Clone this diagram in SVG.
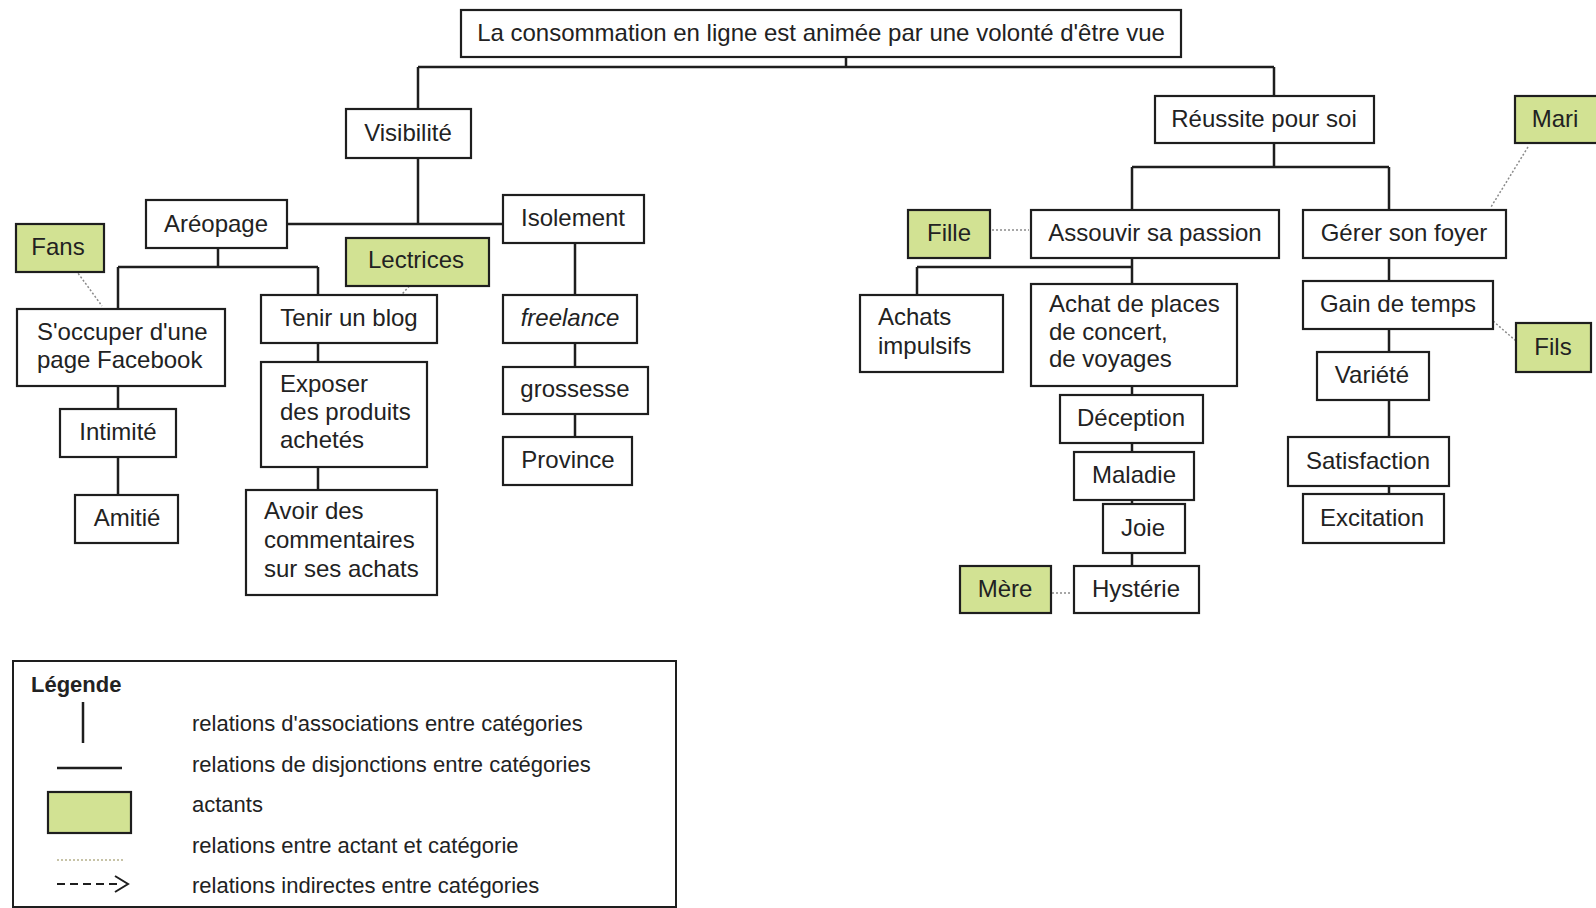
<svg xmlns="http://www.w3.org/2000/svg" width="1596" height="908" viewBox="0 0 1596 908">
<style>
.b{fill:#fff;stroke:#1e1e1e;stroke-width:2.2}
.g{fill:#d2e293;stroke:#1e1e1e;stroke-width:2.2}
.t{font-family:"Liberation Sans",Arial,sans-serif;font-size:24px;fill:#222;text-anchor:middle}
.l{font-family:"Liberation Sans",Arial,sans-serif;font-size:24px;fill:#222}
.lg{font-family:"Liberation Sans",Arial,sans-serif;font-size:22px;fill:#222}
.c{stroke:#1e1e1e;stroke-width:2.5;fill:none}
.d{stroke:#8a8a8a;stroke-width:1.5;stroke-dasharray:2 2;fill:none}
</style>
<rect width="1596" height="908" fill="#fff"/>
<g id="connectors">
<path class="c" d="M846,57V67M418,67H1274M418,67V109M1274,67V96"/>
<path class="c" d="M418,158V224M287,224H503"/>
<path class="c" d="M218,248V267M118,267H318M118,267V309M318,267V295"/>
<path class="c" d="M575,243V295M575,343V367M575,414V437"/>
<path class="c" d="M118,386V409M118,457V495"/>
<path class="c" d="M318,343V362M318,467V490"/>
<path class="c" d="M1274,143V167M1132,167H1389M1132,167V210M1389,167V210"/>
<path class="c" d="M1132,258V267M917,267H1132M917,267V295M1132,267V284"/>
<path class="c" d="M1132,386V395M1132,443V452M1132,500V504M1132,553V566"/>
<path class="c" d="M1389,258V281M1389,329V352M1389,400V437M1389,486V494"/>
<path class="d" d="M64,254L102,306"/>
<path class="d" d="M412,283L386,312"/>
<path class="d" d="M992,230H1029"/>
<path class="d" d="M1528,147L1491,207"/>
<path class="d" d="M1478,308L1523,347"/>
<path class="d" d="M1036,593H1072"/>
</g>
<g id="n-root"><rect class="b" x="461" y="10" width="720" height="47"/><text class="t" x="821" y="41">La consommation en ligne est animée par une volonté d'être vue</text></g>
<g id="n-visibilite"><rect class="b" x="346" y="109" width="125" height="49"/><text class="t" x="408" y="141">Visibilité</text></g>
<g id="n-areopage"><rect class="b" x="146" y="200" width="141" height="48"/><text class="t" x="216" y="232">Aréopage</text></g>
<g id="n-isolement"><rect class="b" x="503" y="195" width="141" height="48"/><text class="t" x="573" y="226">Isolement</text></g>
<g id="n-fans"><rect class="g" x="16" y="224" width="88" height="48"/><text class="t" x="58" y="255">Fans</text></g>
<g id="n-lectrices"><rect class="g" x="346" y="238" width="143" height="48"/><text class="t" x="416" y="268">Lectrices</text></g>
<g id="n-facebook"><rect class="b" x="17" y="309" width="208" height="77"/><text class="l" x="37" y="340">S'occuper d'une</text><text class="l" x="37" y="368">page Facebook</text></g>
<g id="n-blog"><rect class="b" x="261" y="295" width="176" height="48"/><text class="t" x="349" y="326">Tenir un blog</text></g>
<g id="n-freelance"><rect class="b" x="503" y="295" width="134" height="48"/><text class="t" x="570" y="326" font-style="italic">freelance</text></g>
<g id="n-grossesse"><rect class="b" x="503" y="367" width="145" height="47"/><text class="t" x="575" y="397">grossesse</text></g>
<g id="n-province"><rect class="b" x="503" y="437" width="129" height="48"/><text class="t" x="568" y="468">Province</text></g>
<g id="n-intimite"><rect class="b" x="60" y="409" width="116" height="48"/><text class="t" x="118" y="440">Intimité</text></g>
<g id="n-amitie"><rect class="b" x="75" y="495" width="103" height="48"/><text class="t" x="127" y="526">Amitié</text></g>
<g id="n-exposer"><rect class="b" x="261" y="362" width="166" height="105"/><text class="l" x="280" y="392">Exposer</text><text class="l" x="280" y="420">des produits</text><text class="l" x="280" y="448">achetés</text></g>
<g id="n-avoir"><rect class="b" x="246" y="490" width="191" height="105"/><text class="l" x="264" y="519">Avoir des</text><text class="l" x="264" y="548">commentaires</text><text class="l" x="264" y="577">sur ses achats</text></g>
<g id="n-reussite"><rect class="b" x="1155" y="96" width="219" height="47"/><text class="t" x="1264" y="127">Réussite pour soi</text></g>
<g id="n-mari"><rect class="g" x="1515" y="96" width="90" height="47"/><text class="t" x="1555" y="127">Mari</text></g>
<g id="n-fille"><rect class="g" x="908" y="210" width="82" height="48"/><text class="t" x="949" y="241">Fille</text></g>
<g id="n-assouvir"><rect class="b" x="1031" y="210" width="248" height="48"/><text class="t" x="1155" y="241">Assouvir sa passion</text></g>
<g id="n-gerer"><rect class="b" x="1303" y="210" width="203" height="48"/><text class="t" x="1404" y="241">Gérer son foyer</text></g>
<g id="n-achats"><rect class="b" x="860" y="295" width="143" height="77"/><text class="l" x="878" y="325">Achats</text><text class="l" x="878" y="354">impulsifs</text></g>
<g id="n-places"><rect class="b" x="1031" y="284" width="206" height="102"/><text class="l" x="1049" y="312">Achat de places</text><text class="l" x="1049" y="340">de concert,</text><text class="l" x="1049" y="367">de voyages</text></g>
<g id="n-deception"><rect class="b" x="1060" y="395" width="143" height="48"/><text class="t" x="1131" y="426">Déception</text></g>
<g id="n-maladie"><rect class="b" x="1074" y="452" width="120" height="48"/><text class="t" x="1134" y="483">Maladie</text></g>
<g id="n-joie"><rect class="b" x="1103" y="504" width="82" height="49"/><text class="t" x="1143" y="536">Joie</text></g>
<g id="n-hysterie"><rect class="b" x="1074" y="566" width="125" height="47"/><text class="t" x="1136" y="597">Hystérie</text></g>
<g id="n-mere"><rect class="g" x="960" y="566" width="91" height="47"/><text class="t" x="1005" y="597">Mère</text></g>
<g id="n-gain"><rect class="b" x="1303" y="281" width="190" height="48"/><text class="t" x="1398" y="312">Gain de temps</text></g>
<g id="n-fils"><rect class="g" x="1516" y="323" width="75" height="49"/><text class="t" x="1553" y="355">Fils</text></g>
<g id="n-variete"><rect class="b" x="1317" y="352" width="112" height="48"/><text class="t" x="1372" y="383">Variété</text></g>
<g id="n-satisfaction"><rect class="b" x="1288" y="437" width="161" height="49"/><text class="t" x="1368" y="469">Satisfaction</text></g>
<g id="n-excitation"><rect class="b" x="1303" y="494" width="141" height="49"/><text class="t" x="1372" y="526">Excitation</text></g>
<g id="legend">
<rect x="13" y="661" width="663" height="246" fill="#fff" stroke="#1e1e1e" stroke-width="2"/>
<text class="lg" x="31" y="692" font-weight="bold">Légende</text>
<path class="c" d="M83,702V743M57,768H122" stroke-width="2"/>
<rect class="g" x="48" y="792" width="83" height="41"/>
<path d="M57,860H123" stroke="#b5b08a" stroke-width="1.5" stroke-dasharray="2 2"/>
<path d="M57,884H120" stroke="#1e1e1e" stroke-width="2" stroke-dasharray="8 5" fill="none"/>
<path d="M115,876L128,884L115,892" stroke="#1e1e1e" stroke-width="2" fill="none"/>
<text class="lg" x="192" y="731">relations d'associations entre catégories</text>
<text class="lg" x="192" y="772">relations de disjonctions entre catégories</text>
<text class="lg" x="192" y="812">actants</text>
<text class="lg" x="192" y="853">relations entre actant et catégorie</text>
<text class="lg" x="192" y="893">relations indirectes entre catégories</text>
</g>
</svg>
